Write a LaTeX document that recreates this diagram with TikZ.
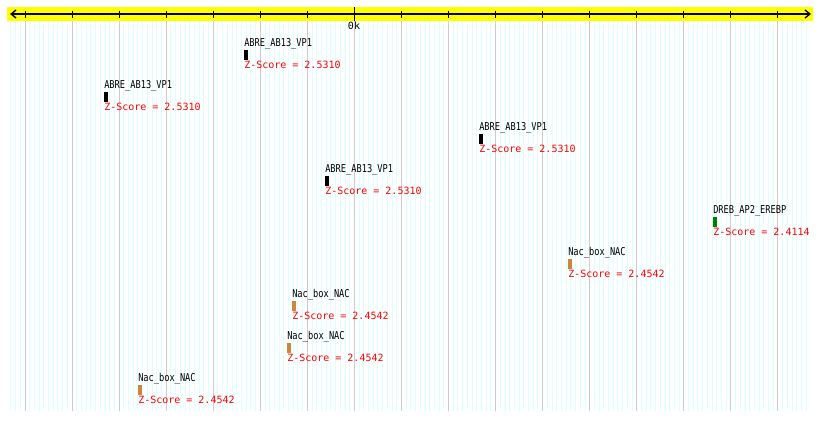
\documentclass[tikz,border=0pt]{standalone}
\usepackage{fontspec}
\usepackage{graphicx}
\setmonofont{DejaVu Sans Mono}
\usetikzlibrary{arrows.meta}
\definecolor{band}{RGB}{255,255,0}
\definecolor{major}{RGB}{204,204,204}
\definecolor{minor}{RGB}{220,255,255}
\definecolor{nacorange}{RGB}{205,133,63}
\definecolor{drebgreen}{RGB}{0,128,0}
\tikzset{
  majorline/.style={draw=major,line width=0.75pt},
  minorline/.style={draw=minor,line width=0.75pt},
  ruler/.style={draw=black,line width=1pt},
  tick/.style={draw=black,line width=0.75pt},
  site/.style={font=\ttfamily\fontsize{6.5pt}{7pt}\selectfont,inner sep=0pt,anchor=base west},
  score/.style={font=\ttfamily\fontsize{7.5pt}{8pt}\selectfont,text=red,inner sep=0pt,anchor=base west},
  hit/.style={minimum width=3pt,minimum height=7.5pt,inner sep=0pt,anchor=north west}
}
\newcommand{\tallname}[1]{\scalebox{1}[1.25]{#1}}

\begin{document}
\begin{tikzpicture}[x=0.75pt,y=-0.75pt]
  \useasboundingbox[fill=white] (0,0) rectangle (820,421);

  % grid
  \foreach \k in {-3,...,166}
    \draw[minorline] ({25+\k*4.706},21) -- ({25+\k*4.706},411);
  \foreach \k in {0,...,16}
    \draw[majorline] ({25+\k*47.06},21) -- ({25+\k*47.06},411);

  % ruler
  \fill[band] (7,7) rectangle (813,21);
  \coordinate (rl) at (10,14);
  \coordinate (rr) at (811,14);
  \draw[ruler,{Straight Barb[length=3.75pt,width=6pt]}-{Straight Barb[length=3.75pt,width=6pt]}] (rl) -- (rr);
  \foreach \k in {0,...,16}
    \draw[tick] ({25+\k*47.06},11) -- ({25+\k*47.06},18);
  \draw[tick] (354,7) -- (354,21);
  \node[score,text=black,anchor=north] (zero) at (354,22) {0k};

  % sites
  \foreach \id/\bx/\by/\tf/\col/\z in {
    a/244/50/ABRE\_AB13\_VP1/black/2.5310,
    b/104/92/ABRE\_AB13\_VP1/black/2.5310,
    c/479/134/ABRE\_AB13\_VP1/black/2.5310,
    d/325/176/ABRE\_AB13\_VP1/black/2.5310,
    e/713/217/DREB\_AP2\_EREBP/drebgreen/2.4114,
    f/568/259/Nac\_box\_NAC/nacorange/2.4542,
    g/292/301/Nac\_box\_NAC/nacorange/2.4542,
    h/287/343/Nac\_box\_NAC/nacorange/2.4542,
    i/138/385/Nac\_box\_NAC/nacorange/2.4542}
  {
    \node[hit,fill=\col] (\id) at (\bx,\by) {};
    \node[site] (\id-name) at ([yshift=2.4pt]\id.north west) {\tallname{\tf}};
    \node[score] (\id-score) at ([yshift=-6.2pt]\id.south west) {Z-Score = \z};
  }
\end{tikzpicture}
\end{document}
